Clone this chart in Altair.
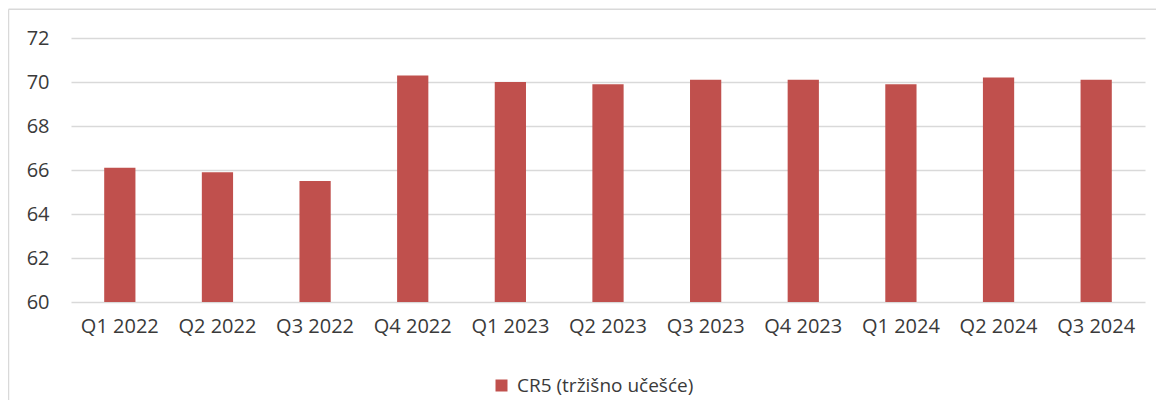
import altair as alt
import pandas as pd

quarters = ["Q1 2022", "Q2 2022", "Q3 2022", "Q4 2022", "Q1 2023", "Q2 2023",
            "Q3 2023", "Q4 2023", "Q1 2024", "Q2 2024", "Q3 2024"]
cr5 = [66.1, 65.9, 65.5, 70.3, 70.0, 69.9, 70.1, 70.1, 69.9, 70.2, 70.1]
series_name = "CR5 (tržišno učešće)"
y_ticks = [60, 62, 64, 66, 68, 70, 72]
y_min = 60
y_max = 72

df = pd.DataFrame({"quarter": quarters, "value": cr5,
                   "series": [series_name] * len(quarters)})

FONT = "Open Sans"
TEXT = "#3a3a3a"
GRID = "#d9d9d9"
BAR = "#C0504D"

bars = alt.Chart(df).mark_bar(clip=True).encode(
    x=alt.X("quarter:N", sort=quarters,
            scale=alt.Scale(paddingInner=0.68, paddingOuter=0.34),
            axis=alt.Axis(title=None, labelAngle=0, domain=False, ticks=False,
                          labelPadding=14, labelFontSize=20, labelColor=TEXT,
                          labelFont=FONT, grid=False)),
    y=alt.Y("value:Q", scale=alt.Scale(domain=[y_min, y_max], nice=False, zero=False),
            axis=alt.Axis(title=None, values=y_ticks, domain=False, ticks=False,
                          labelPadding=22, labelFontSize=20, labelColor=TEXT,
                          labelFont=FONT, grid=True, gridColor=GRID, gridWidth=1.3)),
    y2=alt.datum(y_min),
    color=alt.Color("series:N", scale=alt.Scale(range=[BAR]),
                    legend=alt.Legend(title=None, orient="none", legendX=421, legendY=338,
                                      symbolType="square", symbolSize=144,
                                      labelOffset=6, labelLimit=500,
                                      labelFontSize=19, labelColor=TEXT, labelFont=FONT)),
)

frame_df = pd.DataFrame({"k": [0]})
left_line = alt.Chart(frame_df).mark_rule(color=GRID, strokeWidth=1.5).encode(
    x=alt.value(-62.5), y=alt.value(-28.7), y2=alt.value(362))
top_line = alt.Chart(frame_df).mark_rule(color=GRID, strokeWidth=1.5).encode(
    x=alt.value(-62.5), x2=alt.value(1090), y=alt.value(-28.7))

chart = alt.layer(bars, left_line, top_line).properties(
    width=1074, height=264,
    padding={"left": 63, "top": 30, "right": 11, "bottom": 106},
    autosize=alt.AutoSizeParams(type="none"),
).configure_view(stroke=None)

chart.save("out.html", embed_options={"renderer": "svg", "actions": False})
